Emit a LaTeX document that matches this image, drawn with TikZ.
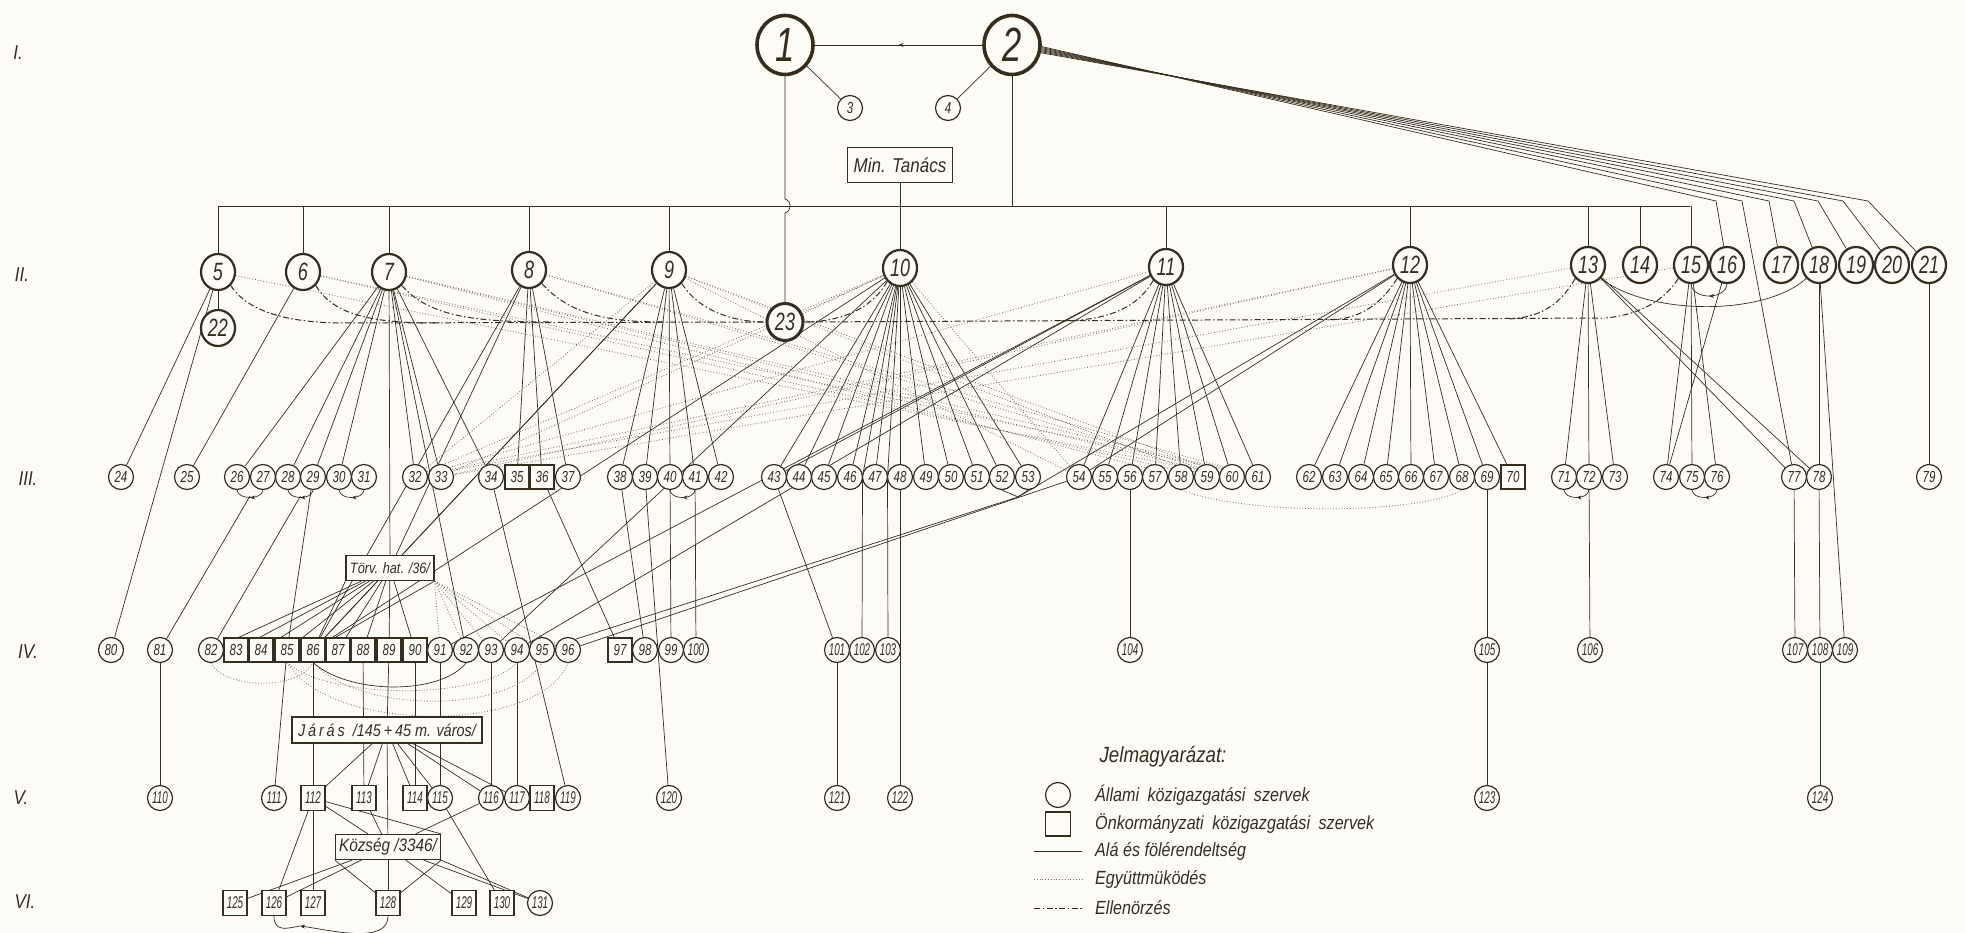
\documentclass[tikz,border=0pt]{standalone}
\usepackage{fontspec}
\newfontfamily\numfnt{Liberation Sans}[FakeStretch=0.72]
\newfontfamily\numfntc{Liberation Sans}[FakeStretch=0.58]
\newfontfamily\labfnt{Liberation Sans}[FakeStretch=0.85]
\usetikzlibrary{shapes.geometric,decorations.markings,arrows.meta}
\definecolor{ink}{RGB}{55,45,30}
\definecolor{paper}{RGB}{253,251,246}
\pgfdeclarelayer{bglayer}
\pgfdeclarelayer{edges}
\pgfsetlayers{bglayer,edges,main}
\tikzset{
  every node/.style={inner sep=0pt, text=ink},
  nI/.style={ellipse, draw=ink, fill=paper, line width=3.6pt, minimum width=56pt, minimum height=59pt, font=\numfnt\fontsize{48}{48}\itshape},
  nII/.style={ellipse, draw=ink, fill=paper, line width=2.2pt, minimum width=34pt, minimum height=36pt, font=\numfnt\fontsize{25}{25}\itshape},
  nc/.style={ellipse, draw=ink, fill=paper, line width=1.2pt, minimum width=25pt, minimum height=25pt, font=\numfnt\fontsize{16}{16}\itshape},
  ncc/.style={nc, font=\numfntc\fontsize{17}{17}\itshape},
  nb/.style={rectangle, draw=ink, fill=paper, line width=1.2pt, minimum width=24pt, minimum height=24pt, font=\numfnt\fontsize{16}{16}\itshape},
  nbb/.style={nb, minimum height=25pt, font=\numfntc\fontsize{17}{17}\itshape},
  lbox/.style={rectangle, draw=ink, fill=paper, line width=1.2pt},
  subl/.style={draw=ink, line width=0.7pt},
  coopl/.style={draw=ink!70, line width=0.8pt, dotted},
  ctrll/.style={draw=ink, line width=1pt, dash pattern=on 6pt off 2.5pt on 1.5pt off 2.5pt},
  midarr/.style={postaction={decorate}, decoration={markings, mark=at position 0.5 with {\arrow{Stealth[length=5pt,width=4pt]}}}},
  roman/.style={font=\labfnt\fontsize{20}{20}\itshape},
  legt/.style={anchor=west, font=\labfnt\fontsize{19}{19}\itshape},
}
\begin{document}
\begin{tikzpicture}[x=1pt,y=-1pt]
\useasboundingbox (0,0) rectangle (1965,933);
\begin{pgfonlayer}{bglayer}
\fill[paper] (0,0) rectangle (1965,933);
\end{pgfonlayer}

% ---------- level labels
\node[roman] (rI) at (18,53) {I.};
\node[roman] (rII) at (22,275) {II.};
\node[roman] (rIII) at (28,479) {III.};
\node[roman] (rIV) at (28,652) {IV.};
\node[roman] (rV) at (21,798) {V.};
\node[roman] (rVI) at (25,902) {VI.};

% ---------- level I
\node[nI] (1) at (785,45) {1};
\node[nI] (2) at (1012,45) {2};
\node[nc] (3) at (850,108) {3};
\node[nc] (4) at (948,108) {4};
\node[lbox, minimum width=105pt, minimum height=35pt, font=\labfnt\fontsize{20}{20}\itshape] (MinT) at (900,165) {Min. Tanács};

% ---------- level II
\foreach \n/\x/\y in {5/218/272, 6/303/272, 7/389/272, 8/529/270, 9/669/270, 10/900/268, 11/1166/267, 12/1410/265, 13/1588/265, 14/1640/265, 15/1691/265, 16/1727/265, 17/1781/265, 18/1819/265, 19/1856/265, 20/1892/265, 21/1929/265, 22/218/328}
  \node[nII] (\n) at (\x,\y) {\n};
\node[nII, line width=3pt, minimum width=36pt, minimum height=37pt] (23) at (785,322) {23};

% ---------- level III
\foreach \n/\x in {24/121, 25/187, 26/237, 27/263, 28/288, 29/313, 30/339, 31/364, 32/415, 33/441, 34/491, 37/568, 38/620, 39/645, 40/670, 41/695, 42/721, 43/774, 44/799, 45/824, 46/850, 47/875, 48/900, 49/926, 50/951, 51/977, 52/1002, 53/1028, 54/1079, 55/1105, 56/1130, 57/1155, 58/1181, 59/1207, 60/1232, 61/1258, 62/1309, 63/1335, 64/1361, 65/1386, 66/1411, 67/1436, 68/1462, 69/1487, 71/1564, 72/1589, 73/1615, 74/1666, 75/1692, 76/1717, 77/1794, 78/1819, 79/1929}
  \node[nc] (\n) at (\x,477) {\n};
\foreach \n/\x in {35/517, 36/542, 70/1513}
  \node[nb] (\n) at (\x,477) {\n};

% ---------- level IV
\foreach \n/\x in {80/111, 81/160, 82/211, 91/440, 92/466, 93/491, 94/517, 95/542, 96/568, 98/645, 99/671}
  \node[nc] (\n) at (\x,650) {\n};
\foreach \n/\x in {100/696, 101/837, 102/862, 103/888, 104/1130, 105/1487, 106/1590, 107/1795, 108/1820, 109/1845}
  \node[ncc] (\n) at (\x,650) {\n};
\foreach \n/\x in {83/236, 84/261, 85/287, 86/313, 87/338, 88/363, 89/389, 90/415, 97/620}
  \node[nb] (\n) at (\x,650) {\n};

% ---------- level V
\foreach \n/\x in {110/160, 111/274, 115/440, 116/491, 117/517, 119/568, 120/669, 121/837, 122/900, 123/1487, 124/1820}
  \node[ncc] (\n) at (\x,798) {\n};
\foreach \n/\x in {112/313, 113/364, 114/415, 118/542}
  \node[nbb] (\n) at (\x,798) {\n};

% ---------- level VI
\foreach \n/\x in {125/235, 126/274, 127/313, 128/388, 129/464, 130/502}
  \node[nbb] (\n) at (\x,903) {\n};
\node[ncc] (131) at (540,903) {131};

% ---------- aggregate boxes
\node[lbox, minimum width=88pt, minimum height=25pt, font=\labfnt\fontsize{15}{15}\itshape] (Tv) at (390,568) {Törv. hat. /36/};
\node[lbox, minimum width=190pt, minimum height=26pt, font=\labfnt\fontsize{17}{17}\itshape] (Ja) at (387,730) {J\,á\,r\,á\,s\ \ /145\,+\,45 m. város/};
\node[lbox, minimum width=105pt, minimum height=25pt, font=\labfnt\fontsize{18}{18}\itshape] (Ko) at (388,847) {Község /3346/};

% ---------- legend
\node[font=\labfnt\fontsize{22}{22}\itshape] (lgT) at (1163,757) {Jelmagyarázat:};
\node[nc, minimum width=25pt, minimum height=25pt] (lgC) at (1058,795) {};
\node[nb, minimum width=25pt, minimum height=24pt] (lgS) at (1058,824) {};
\coordinate (la1) at (1034,851); \coordinate (la2) at (1082,851);
\coordinate (lb1) at (1034,879); \coordinate (lb2) at (1082,879);
\coordinate (lc1) at (1034,908); \coordinate (lc2) at (1082,908);
\node[legt] (lt1) at (1095,795) {Állami\hspace{4pt} közigazgatási\hspace{4pt} szervek};
\node[legt] (lt2) at (1095,824) {Önkormányzati\hspace{4pt} közigazgatási\hspace{4pt} szervek};
\node[legt] (lt3) at (1095,851) {Alá és fölérendeltség};
\node[legt] (lt4) at (1095,879) {Együttmüködés};
\node[legt] (lt5) at (1095,908) {Ellenörzés};

% ---------- helper coordinates
\coordinate (busL) at (218,206);
\coordinate (busR) at (1690,206);
\coordinate (h1) at (785,199);
\coordinate (h2) at (785,213);
\coordinate (g4647) at (862.5,477);
\coordinate (g4748) at (887.5,477);
\coordinate (j5253) at (1018,497);
\coordinate (jvi) at (300,926);
\coordinate (cL) at (345,323);
\coordinate (cR) at (1605,318);

\begin{pgfonlayer}{edges}
% top structure
\draw[subl, midarr] (2) -- (1);
\draw[subl] (1) -- (h1) .. controls (792,201) and (792,211) .. (h2) -- (23);
\draw[subl] (busL) -- (busR);
\foreach \n in {5,6,7,8,9,11,12,13,14,15} \draw[subl] (\n |- busL) -- (\n);
\draw[subl] (2) -- (2 |- busL);
\draw[subl] (MinT) -- (10);
\foreach \bx/\t/\ang in {1716/16/-3, 1742/77/-5, 1769/17/-7, 1794/18/-9, 1818/19/-11, 1843/20/-13, 1868/21/-15}
  \draw[subl] (2.\ang) -- (\bx,201) -- (\t);

% subordination lines
\foreach \a/\b in {1/3, 2/4, 5/22, 5/24, 5/80, 6/25,
  7/26, 7/28, 7/29, 7/30, 7/32, 7/33, 7/34, 7/92, 7/Tv,
  8/35, 8/36, 8/37, 8/Tv, 8/86,
  9/38, 9/39, 9/40, 9/41, 9/42, 9/Tv, 9/86,
  10/43, 10/44, 10/45, 10/46, 10/47, 10/48, 10/49, 10/50, 10/51, 10/52, 10/53, 10/86, 10/93,
  11/54, 11/55, 11/56, 11/57, 11/58, 11/59, 11/60, 11/61, 11/43, 11/91, 11/94,
  12/62, 12/63, 12/64, 12/65, 12/66, 12/67, 12/68, 12/69, 12/70, 12/54,
  13/71, 13/72, 13/73, 13/77, 13/78,
  15/74, 15/75, 15/76, 16/74,
  18/78, 18/109, 21/79, 77/107, 78/108, 108/124,
  29/85, 34/119, 36/97, 38/98, 40/99, 41/100, 39/120, 43/101, 48/122, 56/104, 69/105, 72/106, 54/96,
  Tv/82, Tv/83, Tv/84, Tv/85, Tv/86, Tv/87, Tv/88, Tv/89, Tv/90,
  81/110, 85/111, 86/112, 88/113, 90/114, 91/115, 93/116, 94/117, 89/Ja, 101/121, 105/123,
  Ja/112, Ja/113, Ja/114, Ja/115, Ja/116, Ja/117, Ja/Ko,
  112/Ko, 113/Ko, 116/Ko, Ko/125, Ko/126, Ko/128, Ko/129, Ko/131, 112/126, 112/127, 115/130}
  \draw[subl] (\a) -- (\b);
\draw[subl] (Tv.south west) -- (86);
\draw[subl] (Tv.south east) -- (86);
\draw[subl] (112) -- (Ko.north east);
\draw[subl] (Ko.south east) -- (128);
\draw[subl] (Ko.south east) -- (131);
\draw[subl] (Ko.south west) -- (128);
\draw[subl] (10) -- (g4647) -- (102);
\draw[subl] (10) -- (g4748) -- (103);
\draw[subl] (12) -- (j5253);
\draw[subl] (52.south) -- (j5253) -- (53.south);
\draw[subl] (j5253) -- (95);

% small joints with arrows
\draw[subl, midarr] (27.south) .. controls (262,500) and (238,500) .. (26.south);
\draw[subl] (250,496) -- (81);
\draw[subl, midarr] (29.south) .. controls (312,500) and (289,500) .. (28.south);
\draw[subl] (300.5,496) -- (82);
\draw[subl, midarr] (31.south) .. controls (363,500) and (340,500) .. (30.south);
\draw[subl, midarr] (41.south) .. controls (694,500) and (671,500) .. (40.south);
\draw[subl, midarr] (72.south) .. controls (1588,500) and (1565,500) .. (71.south);
\draw[subl, midarr] (76.south) .. controls (1716,500) and (1693,500) .. (75.south);
\draw[subl, midarr] (16.south) .. controls (1725,300) and (1693,300) .. (15.south);
\draw[subl] (13.south east) .. controls (1650,316) and (1765,316) .. (18.south west);
\draw[subl] (126.south) .. controls (274,933) and (288,928) .. (jvi);
\draw[subl, -{Stealth[length=5pt,width=4pt]}] (128.south) .. controls (388,945) and (330,930) .. (jvi);
\draw[subl] (86.south) .. controls (350,695) and (440,695) .. (92.south);

% control (dash-dot)
\draw[ctrll] (cL) -- (23.west);
\draw[ctrll] (23.east) -- (cR);
\draw[ctrll] (5.south east) .. controls (250,316) and (300,323) .. (cL);
\draw[ctrll] (6.south east) .. controls (335,318) and (380,323) .. (440,323);
\draw[ctrll] (7.south east) .. controls (430,318) and (480,322) .. (552,322);
\draw[ctrll] (8.south east) .. controls (570,315) and (610,322) .. (663,322);
\draw[ctrll] (9.south east) .. controls (700,312) and (735,322) .. (23.west);
\draw[ctrll] (10.south west) .. controls (870,312) and (835,322) .. (23.east);
\draw[ctrll] (11.south west) .. controls (1135,312) and (1100,321) .. (1057,321);
\draw[ctrll] (12.south west) .. controls (1380,305) and (1360,320) .. (1325,320);
\draw[ctrll] (13.south west) .. controls (1560,305) and (1540,318) .. (1507,319);
\draw[ctrll] (15.south west) .. controls (1665,300) and (1640,315) .. (cR);

% cooperation (dotted)
\foreach \a/\b in {5/60, 6/61, 6/59, 7/60, 7/61, 7/58, 8/60, 8/61, 9/59, 9/60,
  9/32, 10/32, 10/33, 11/32, 12/33, 12/32, 13/32, 15/33, 10/54, 9/54, 23/10}
  \draw[coopl] (\a) -- (\b);
\foreach \b in {91,92,93,94,95,96}
  \draw[coopl] (Tv.south east) -- (\b);
\draw[coopl] (82.south) .. controls (225,690) and (300,690) .. (86.south);
\draw[coopl] (85.south) .. controls (330,700) and (480,700) .. (94.south);
\draw[coopl] (86.south) .. controls (360,714) and (510,714) .. (95.south);
\draw[coopl] (85.south) .. controls (330,734) and (540,734) .. (96.south);
\draw[coopl] (58.south) .. controls (1250,516) and (1420,514) .. (68.south);

% legend lines
\draw[subl] (la1) -- (la2);
\draw[coopl] (lb1) -- (lb2);
\draw[ctrll] (lc1) -- (lc2);
\end{pgfonlayer}
\end{tikzpicture}
\end{document}
